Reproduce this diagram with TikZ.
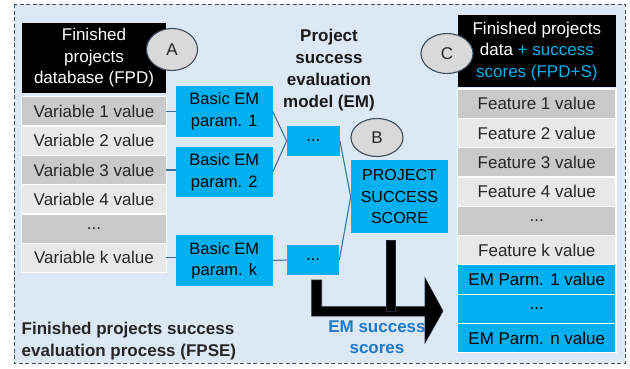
\documentclass[tikz,border=0pt]{standalone}
\usepackage{fontspec}
\setmainfont{Liberation Sans}
\usetikzlibrary{shapes.geometric}
\definecolor{bgblue}{HTML}{DDE8F5}
\definecolor{bordercol}{HTML}{3F4F60}
\definecolor{cyanbox}{HTML}{00B0F0}
\definecolor{rowgray}{HTML}{C9C9C9}
\definecolor{rowlight}{HTML}{E8E8E8}
\definecolor{conncol}{HTML}{41719C}
\definecolor{ellgray}{HTML}{D9D9D9}
\definecolor{ellline}{HTML}{3B4A5A}
\definecolor{emblue}{HTML}{1F78C8}
\definecolor{txtdark}{HTML}{262626}
\definecolor{arrowline}{HTML}{1F2A38}
\begin{document}
\begin{tikzpicture}[x=1pt,y=-1pt,
  every node/.style={inner sep=0pt, outer sep=0pt},
  hdr/.style={fill=black, text=white, align=center, font=\fontsize{17}{21.5}\selectfont},
  rowbox/.style={draw=white, line width=1.2pt, text=txtdark, minimum height=29.3pt, font=\fontsize{17}{20}\selectfont},
  embox/.style={fill=cyanbox, text=black, align=center, font=\fontsize{16.5}{21.5}\selectfont},
  tag/.style={ellipse, fill=ellgray, draw=ellline, line width=1.1pt, font=\fontsize{17}{20}\selectfont, text=txtdark},
  conn/.style={draw=conncol, line width=1.1pt},
  ttl/.style={align=center, font=\fontsize{17}{21.8}\selectfont\bfseries, text=black!90}
]
\useasboundingbox (0,0) rectangle (630,368);
\fill[bgblue] (14,4) rectangle (625,363);
\draw[bordercol, line width=1pt, dash pattern=on 4pt off 2.5pt] (14,4) rectangle (625,363);

% left database
\node[hdr, minimum width=144.3pt, minimum height=70.6pt] (fpd) at (94,58) {Finished\\projects\\database (FPD)};
\node[rowbox, fill=rowgray,  minimum width=144.3pt] (v1) at (94,111.35) {Variable 1 value};
\node[rowbox, fill=rowlight, minimum width=144.3pt] (v2) at (94,140.65) {Variable 2 value};
\node[rowbox, fill=rowgray,  minimum width=144.3pt] (v3) at (94,169.95) {Variable 3 value};
\node[rowbox, fill=rowlight, minimum width=144.3pt] (v4) at (94,199.25) {Variable 4 value};
\node[rowbox, fill=rowgray,  minimum width=144.3pt] (v5) at (94,228.55) {...};
\node[rowbox, fill=rowlight, minimum width=144.3pt] (vk) at (94,257.85) {Variable k value};
\node[tag, minimum width=51pt, minimum height=42pt] (tA) at (172,49.5) {A};

% title
\node[ttl] (title) at (329,70) {Project\\success\\evaluation\\model (EM)};

% EM parameter boxes
\node[embox, minimum width=96.7pt, minimum height=50.7pt] (b1) at (224.3,111.3) {Basic EM\\param. 1};
\node[embox, minimum width=96.7pt, minimum height=50.6pt] (b2) at (224.3,172) {Basic EM\\param. 2};
\node[embox, minimum width=96.7pt, minimum height=51pt] (bk) at (224.3,260.5) {Basic EM\\param. k};
\node[embox, minimum width=53.3pt, minimum height=30pt] (m1) at (313.3,141) {...};
\node[embox, minimum width=52.7pt, minimum height=29.3pt] (m2) at (313,260) {...};
\node[embox, minimum width=97.6pt, minimum height=73.3pt, font=\fontsize{16}{21.5}\selectfont] (score) at (399.5,196.7) {PROJECT\\SUCCESS\\SCORE};
\node[tag, minimum width=52pt, minimum height=38pt] (tB) at (377,137.5) {B};

% connectors
\draw[conn] (v1.east) -- (v1.east -| b1.west);
\draw[conn] (v3.east) -- (v3.east -| b2.west);
\draw[conn] (vk.east) -- (vk.east -| bk.west);
\draw[conn] (b1.east) -- (m1.west);
\draw[conn] (b2.east) -- (m1.west);
\draw[conn] (bk.east) -- (m2.west);
\draw[conn] (m1.east) -- (score.west);
\draw[conn] (m2.east) -- (score.west);

% right database
\node[hdr, minimum width=158.3pt, minimum height=72.3pt] (fpds) at (536.85,51.15) {Finished projects\\data \textcolor{cyanbox}{+ success}\\\textcolor{cyanbox}{scores (FPD+S)}};
\node[rowbox, fill=rowgray,  minimum width=158.5pt] (f1) at (536.75,103.65) {Feature 1 value};
\node[rowbox, fill=rowlight, minimum width=158.5pt] (f2) at (536.75,132.95) {Feature 2 value};
\node[rowbox, fill=rowgray,  minimum width=158.5pt] (f3) at (536.75,162.25) {Feature 3 value};
\node[rowbox, fill=rowlight, minimum width=158.5pt] (f4) at (536.75,191.55) {Feature 4 value};
\node[rowbox, fill=rowgray,  minimum width=158.5pt] (f5) at (536.75,220.85) {...};
\node[rowbox, fill=rowlight, minimum width=158.5pt] (fk) at (536.75,250.15) {Feature k value};
\node[rowbox, fill=cyanbox, text=black, minimum width=158.5pt] (p1) at (536.75,279.45) {EM Parm. 1 value};
\node[rowbox, fill=cyanbox, text=black, minimum width=158.5pt] (p2) at (536.75,308.75) {...};
\node[rowbox, fill=cyanbox, text=black, minimum width=158.5pt] (pn) at (536.75,338.05) {EM Parm. n value};
\node[tag, minimum width=52pt, minimum height=40pt] (tC) at (447,53.5) {C};

% big black arrow
\fill[black, draw=arrowline, line width=0.6pt]
  (311.7,280) -- (311.7,316) -- (425,316) -- (425,343) -- (443,311)
  -- (425,278) -- (425,306.7) -- (321.7,306.7) -- (321.7,280) -- cycle;
\fill[black, draw=arrowline, line width=0.8pt] (386.7,240) rectangle (395,311.7);

\node[align=center, text=emblue, font=\fontsize{17}{20.5}\selectfont\bfseries] (emss) at (377,337) {EM success\\scores};

\node[anchor=west, align=left, text=black!85, font=\fontsize{17}{21.7}\selectfont\bfseries] (fpse) at (21.7,341) {Finished projects success\\evaluation process (FPSE)};
\end{tikzpicture}
\end{document}
